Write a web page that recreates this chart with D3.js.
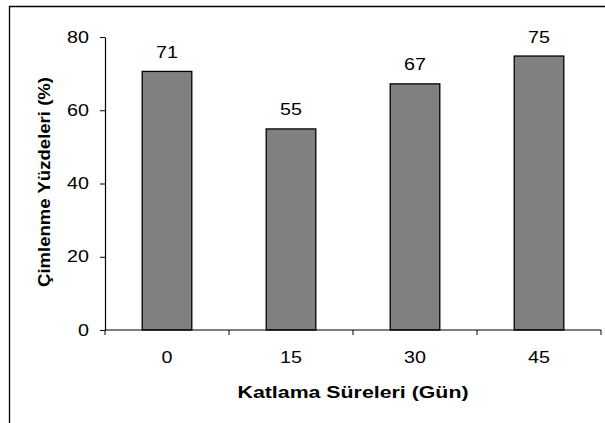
<!DOCTYPE html>
<html><head><meta charset="utf-8">
<script src="https://cdn.jsdelivr.net/npm/d3@7"></script>
<style>body{margin:0;background:#fff}svg{display:block;font-family:"Liberation Sans",Arial,sans-serif}</style>
</head><body>
<svg id="c" width="605" height="423"></svg>
<script>
const categories = ["0", "15", "30", "45"];
const values = [70.6, 54.9, 67.2, 74.8];
const yTicks = [0, 20, 40, 60, 80];
const xTitle = "Katlama Süreleri (Gün)";
const yTitle = "Çimlenme Yüzdeleri (%)";

const SX = 1.23;
const svg = d3.select("#c");
svg.append("path").attr("d", "M9.5,430V6.5H620").attr("fill", "none").attr("stroke", "#000").attr("stroke-width", 1.3);

const x = d3.scaleBand().domain(categories).range([105, 601]).paddingInner(0.6).paddingOuter(0.3);
const y = d3.scaleLinear().domain([0, 80]).range([330, 37]);

svg.selectAll("rect.bar").data(values).join("rect").attr("class", "bar")
  .attr("x", (d, i) => x(categories[i]))
  .attr("width", x.bandwidth())
  .attr("y", d => y(d))
  .attr("height", d => y(0) - y(d))
  .attr("fill", "#808080").attr("stroke", "#000").attr("stroke-width", 1.3);

svg.selectAll("text.lbl").data(values).join("text").attr("class", "lbl")
  .attr("transform", (d, i) => `translate(${x(categories[i]) + x.bandwidth() / 2},${y(d) - 13.5}) scale(${SX},1)`)
  .attr("text-anchor", "middle").attr("font-size", 16).attr("fill", "#000")
  .text(d => Math.round(d));

// y axis
const ya = svg.append("g").attr("transform", "translate(105,0)")
  .call(d3.axisLeft(y).tickValues(yTicks).tickSize(5).tickPadding(0).tickSizeOuter(0));
ya.select(".domain").attr("stroke-width", 1.2);
ya.selectAll(".tick text").attr("x", null)
  .attr("transform", `translate(-16,0) scale(${SX},1)`)
  .attr("font-size", 16).attr("font-family", "Liberation Sans, Arial, sans-serif").attr("fill", "#000");

// x axis
const xs = d3.scalePoint().domain(d3.range(5)).range([105, 601]);
const xa = svg.append("g").attr("transform", "translate(0,330)");
xa.append("line").attr("x1", 105).attr("x2", 601).attr("stroke", "#000").attr("stroke-width", 1.2);
xa.selectAll("line.t").data(d3.range(5)).join("line").attr("class", "t")
  .attr("x1", d => xs(d)).attr("x2", d => xs(d)).attr("y1", 0).attr("y2", 5).attr("stroke", "#000");
xa.selectAll("text").data(categories).join("text")
  .attr("transform", d => `translate(${x(d) + x.bandwidth() / 2},33) scale(${SX},1)`)
  .attr("text-anchor", "middle").attr("font-size", 16).attr("fill", "#000").text(d => d);

svg.append("text").attr("x", 353).attr("y", 398).attr("text-anchor", "middle")
  .attr("font-size", 16).attr("font-weight", "bold")
  .attr("textLength", 231).attr("lengthAdjust", "spacingAndGlyphs").text(xTitle);
svg.append("text").attr("transform", "translate(50,182) rotate(-90)").attr("text-anchor", "middle")
  .attr("font-size", 16).attr("font-weight", "bold")
  .attr("textLength", 210).attr("lengthAdjust", "spacingAndGlyphs").text(yTitle);
</script>
</body></html>
